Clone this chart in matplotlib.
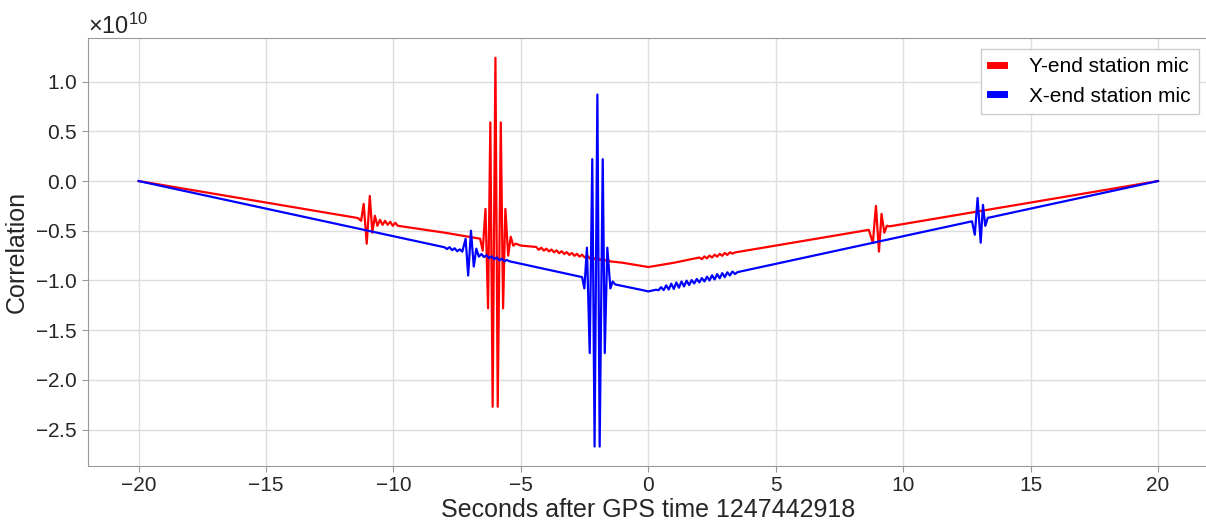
import numpy as np
import matplotlib
matplotlib.use("Agg")
import matplotlib.pyplot as plt
from matplotlib.ticker import ScalarFormatter

plt.rcParams['font.family'] = ['Liberation Sans', 'DejaVu Sans']
plt.rcParams['mathtext.fontset'] = 'custom'
plt.rcParams['mathtext.rm'] = 'Liberation Sans'

# values in units of 1e10 (turning points of each trace)
scale = 1e10

t_red = [-20.0, -11.40, -11.27, -11.17, -11.05, -10.93, -10.83, -10.73, -10.63,
         -10.53, -10.43, -10.33, -10.23, -10.13, -10.03, -9.93, -9.83, -8.0,
         -6.60, -6.50, -6.39, -6.29, -6.20, -6.11, -6.00, -5.91, -5.79, -5.70,
         -5.61, -5.50, -5.40, -5.30, -5.20, -5.0,
         -4.4, -4.3, -4.2, -4.1, -4.0, -3.9, -3.8, -3.7, -3.6, -3.5, -3.4, -3.3,
         -3.2, -3.1, -3.0, -2.9, -2.8, -2.7, -2.6, -2.5, -2.4, -2.3, -2.2, -2.1,
         -2.0, -1.9, -1.8, -1.7, -1.6, -1.5, -1.0, 0.0, 1.0,
         2.0, 2.1, 2.2, 2.3, 2.4, 2.5, 2.6, 2.7, 2.8, 2.9, 3.0, 3.1, 3.2, 3.3, 3.4,
         8.65, 8.81, 8.93, 9.05, 9.15, 9.26, 9.36, 9.46, 20.0]
y_red = [0.0, -0.372, -0.40, -0.23, -0.63, -0.15, -0.52, -0.35, -0.45,
         -0.39, -0.44, -0.40, -0.44, -0.41, -0.45, -0.42, -0.45, -0.519,
         -0.580, -0.70, -0.28, -1.28, 0.59, -2.27, 1.24, -2.27, 0.59, -1.28,
         -0.28, -0.75, -0.56, -0.65, -0.63, -0.649,
         -0.663, -0.691, -0.671, -0.700, -0.680, -0.708, -0.689, -0.717, -0.697,
         -0.726, -0.706, -0.734, -0.715, -0.743, -0.723, -0.752, -0.732, -0.760,
         -0.741, -0.769, -0.749, -0.778, -0.758, -0.786, -0.766, -0.795, -0.777,
         -0.801, -0.788, -0.808, -0.822, -0.865, -0.822,
         -0.769, -0.786, -0.758, -0.778, -0.749, -0.769, -0.741, -0.760, -0.732,
         -0.752, -0.723, -0.743, -0.717, -0.730, -0.718,
         -0.491, -0.62, -0.25, -0.71, -0.33, -0.52, -0.45, -0.456, 0.0]

t_blue = [-20.0, -8.0, -7.9, -7.8, -7.7, -7.6, -7.5, -7.4, -7.3,
          -7.17, -7.07, -6.96, -6.85, -6.75, -6.65,
          -6.55, -6.45, -6.35, -6.25, -6.15, -6.05, -5.95, -5.85, -5.75, -5.65,
          -5.55, -5.45, -2.6,
          -2.51, -2.41, -2.30, -2.20, -2.11, -2.00, -1.91, -1.79, -1.71, -1.61,
          -1.49, -1.40, -1.30, -0.3, 0.0, 0.3,
          0.4, 0.5, 0.6, 0.7, 0.8, 0.9, 1.0, 1.1, 1.2, 1.3, 1.4, 1.5, 1.6, 1.7,
          1.8, 1.9, 2.0, 2.1, 2.2, 2.3, 2.4, 2.5, 2.6, 2.7, 2.8, 2.9, 3.0, 3.1,
          3.2, 3.3, 3.4, 3.5,
          12.70, 12.81, 12.92, 13.04, 13.13, 13.22, 13.32, 13.42, 20.0]
y_blue = [0.0, -0.666, -0.684, -0.665, -0.695, -0.676, -0.706, -0.687, -0.710,
          -0.58, -0.95, -0.50, -0.86, -0.68, -0.76,
          -0.734, -0.764, -0.746, -0.775, -0.757, -0.786, -0.768, -0.797, -0.781,
          -0.806, -0.794, -0.807, -0.966,
          -1.08, -0.67, -1.73, 0.22, -2.67, 0.87, -2.67, 0.22, -1.73, -0.67,
          -1.08, -1.01, -1.04, -1.093, -1.11, -1.093,
          -1.098, -1.067, -1.097, -1.049, -1.091, -1.032, -1.085, -1.020, -1.073,
          -1.010, -1.060, -1.002, -1.046, -0.996, -1.030, -0.985, -1.019, -0.976,
          -1.010, -0.962, -1.000, -0.948, -0.990, -0.936, -0.978, -0.926, -0.966,
          -0.918, -0.950, -0.910, -0.935, -0.916,
          -0.405, -0.54, -0.17, -0.62, -0.24, -0.45, -0.37, -0.365, 0.0]

labels = ['Y-end station mic', 'X-end station mic']
colors = ['red', 'blue']

fig = plt.figure(figsize=(12.06, 5.21), dpi=100)
ax = fig.add_axes([0.0727, 0.1056, 0.9298, 0.8209])

ax.plot(t_red, np.array(y_red) * scale, color=colors[0], lw=1.6, label=labels[0])
ax.plot(t_blue, np.array(y_blue) * scale, color=colors[1], lw=1.6, label=labels[1])

ax.set_xlim(-22, 22)
ax.set_xticks(np.arange(-20, 21, 5))
ax.set_yticks(np.arange(-2.5, 1.01, 0.5) * scale)

fmt = ScalarFormatter(useMathText=True)
ax.yaxis.set_major_formatter(fmt)
ax.yaxis.get_offset_text().set_fontsize(17)
ax.yaxis.get_offset_text().set_color('#262626')

ax.grid(True, color='#dddddd', lw=1.0)
ax.set_axisbelow(True)
for s in ax.spines.values():
    s.set_color('#999999')
ax.tick_params(labelsize=15, colors='#999999', labelcolor='#262626', length=4)

ax.set_xlabel('Seconds after GPS time 1247442918', fontsize=18, color='#262626',
              labelpad=2)
ax.set_ylabel('Correlation', fontsize=18, color='#262626')

leg = ax.legend(loc='upper right', bbox_to_anchor=(1199 / 1206, 472 / 521),
                bbox_transform=fig.transFigure, borderaxespad=0,
                fontsize=15, handlelength=0.7, handletextpad=1.2,
                fancybox=False, edgecolor='#cccccc', framealpha=1.0)
for h in leg.get_lines():
    h.set_linewidth(5)

fig.savefig('out.png', dpi=100)
